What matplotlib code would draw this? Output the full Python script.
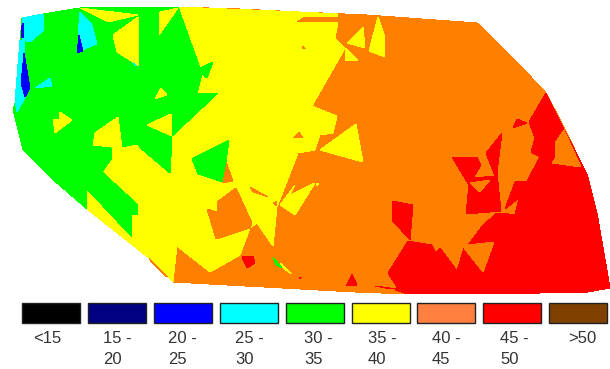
import matplotlib
matplotlib.use("Agg")
import matplotlib.pyplot as plt
from matplotlib.patches import Polygon, Rectangle

plt.rcParams['font.family'] = ['Liberation Sans', 'DejaVu Sans']

ORANGE = '#FF8000'; YELLOW = '#FFFF00'; GREEN = '#00FF00'
CYAN = '#00FFFF'; BLUE = '#0000FF'; RED = '#FF0000'

legend_labels = ['<15', '15 -\n20', '20 -\n25', '25 -\n30', '30 -\n35',
                 '35 -\n40', '40 -\n45', '45 -\n50', '>50']
legend_colors = ['#000000', '#000080', '#0000FF', '#00FFFF', '#00FF00',
                 '#FFFF00', '#FF8040', '#FF0000', '#804000']
legend_text_x = [33, 103, 168, 235, 304, 368, 432, 500, 568]

outline = [(22,18),(43,14),(80,8),(130,7),(178,7),(240,9),(300,12),(367,15),(477,23),
           (517,62),(546,93),(563,125),(575,150),(588,177),(597,213),(610,288),(588,292),
           (540,293),(407,294),(355,292),(173,282),(149,258),(87,209),(50,177),(23,150),
           (13,110),(15,103)]

yellow_main = [(178,7),(300,12),(338,14),(338,22),(335,38),(345,48),(312,106),(337,116),
               (333,133),(320,135),(315,150),(298,153),(277,207),(273,246),(257,223),
               (250,228),(240,255),(210,272),(177,246),(173,282),(149,258),(87,209),
               (50,177),(100,100)]
orange_on_yellow = [
    [(217,202),(236,188),(252,223),(250,228),(216,239),(207,209),(217,212)],
    [(226,162),(233,181),(222,183)],
    [(250,187),(268,197),(253,192)],
    [(273,203),(277,201),(276,206)],
    [(297,22),(305,17),(345,17),(340,22)],
    [(293,138),(299,132),(303,138)],
    [(302,46),(306,49),(303,49)],
    [(149,258),(168,277),(166,277),(151,262)],
]
yellow_on_orange = [
    [(363,27),(365,48),(347,43)],
    [(345,48),(358,60),(346,61)],
    [(378,17),(385,37),(385,57),(369,51)],
    [(320,150),(356,124),(363,162)],
    [(280,205),(295,185),(290,195),(315,183),(295,215)],
    [(316,183),(319,184),(317,186)],
]
green_main = [(22,18),(43,14),(80,8),(130,7),(178,7),(200,68),(213,62),(207,78),(202,74),
              (197,93),(218,93),(172,136),(172,140),(170,173),(137,145),(122,147),(120,140),
              (93,140),(93,145),(112,147),(112,158),(102,172),(138,205),(137,215),(132,214),
              (132,237),(87,189),(87,209),(50,177),(23,150),(13,110),(15,103)]
green_extra = [
    [(192,159),(229,140),(226,162),(222,182),(198,174)],
    [(273,257),(282,268),(276,265)],
]
yellow_on_green = [
    [(80,8),(138,15),(108,22)],
    [(138,17),(139,66),(117,52),(113,35)],
    [(160,12),(178,8),(159,35)],
    [(161,88),(167,95),(155,99)],
    [(60,112),(72,120),(55,133),(53,119),(59,119)],
    [(147,125),(171,114),(172,136)],
    [(118,117),(122,148),(137,145),(140,150),(93,145),(95,133)],
    [(280,263),(292,274),(284,269)],
]
cyan_parts = [
    [(22,18),(43,14),(44,30),(30,42),(23,40)],
    [(20,40),(25,42),(24,60),(30,87),(25,98),(17,112),(15,102)],
    [(50,78),(52,86),(35,88)],
    [(80,12),(92,25),(97,44),(82,50),(78,35)],
    [(133,62),(137,66),(135,66)],
]
blue_parts = [
    [(23,23),(24,38),(21,37),(21,28)],
    [(24,53),(30,88),(25,97),(21,83)],
    [(79,35),(83,51),(77,53)],
]
red_parts = [
    [(546,93),(564,130),(575,150),(588,177),(597,213),(610,288),(588,292),(540,293),(407,294),
     (395,290),(397,287),(388,273),(408,241),(432,245),(436,253),(440,248),(457,271),(464,248),
     (468,245),(483,225),(497,213),(503,213),(515,215),(519,198),(505,209),(515,182),(527,181),
     (540,157),(531,152),(535,138),(529,122)],
    [(452,157),(477,157),(481,165),(473,178),(495,176),(486,153),(502,133),(497,173),(501,211),
     (466,214),(469,185)],
    [(517,119),(527,123),(513,128)],
    [(393,201),(413,205),(410,240),(392,220)],
    [(242,257),(253,256),(255,263),(247,268)],
    [(299,277),(302,277),(300,279)],
    [(352,274),(357,285),(346,286)],
    [(375,286),(397,289),(385,288)],
]
orange_on_red = [
    [(468,245),(494,242),(483,272),(464,248)],
    [(564,130),(581,167),(552,163),(556,157),(555,143)],
    [(470,183),(490,180),(480,192)],
]

layers = [
    ([outline], ORANGE), ([yellow_main], YELLOW), (orange_on_yellow, ORANGE),
    (yellow_on_orange, YELLOW), ([green_main], GREEN), (green_extra, GREEN),
    (yellow_on_green, YELLOW), (cyan_parts, CYAN), (blue_parts, BLUE),
    (red_parts, RED), (orange_on_red, ORANGE),
]

fig = plt.figure(figsize=(6.10, 3.69), dpi=100)
ax = fig.add_axes([0, 0, 1, 1])
ax.set_xlim(0, 610)
ax.set_ylim(369, 0)
ax.axis('off')

for polys, color in layers:
    for p in polys:
        ax.add_patch(Polygon(p, closed=True, facecolor=color, edgecolor='none', antialiased=False))

for i, (label, color, tx) in enumerate(zip(legend_labels, legend_colors, legend_text_x)):
    ax.add_patch(Rectangle((22 + 65.9 * i, 303), 58, 19.5, facecolor=color,
                           edgecolor='#222222', linewidth=1))
    ax.text(tx, 331, label, ha='left', va='top', fontsize=12, color='#333333', linespacing=1.5)

fig.savefig('out.png', dpi=100)
